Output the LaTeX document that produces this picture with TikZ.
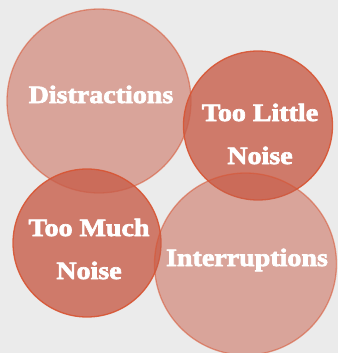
\documentclass[tikz,border=0pt]{standalone}
\usepackage{fontspec}
\newfontfamily\lblfont[FakeStretch=1.12]{Liberation Serif}
\newcommand\heavytxt[1]{\special{pdf:literal direct 2 Tr 0.7 w}#1\special{pdf:literal direct 0 Tr}}
\definecolor{bgc}{RGB}{235,235,235}
\definecolor{basec}{RGB}{200,94,74}
\definecolor{edgec}{RGB}{216,84,50}
\tikzset{
  lightcirc/.style={circle, fill=basec, fill opacity=0.5, draw=edgec, draw opacity=0.55, line width=1.3pt, inner sep=0pt},
  darkcirc/.style={circle, fill=basec, fill opacity=0.8, draw=edgec, draw opacity=0.9, line width=1.3pt, inner sep=0pt},
  lbl/.style={text=white, font=\lblfont\bfseries\fontsize{25}{43}\selectfont, align=center, anchor=base, inner sep=0pt}
}
\begin{document}
\begin{tikzpicture}[x=1pt,y=-1pt]
\fill[bgc] (0,0) rectangle (338,353);
\useasboundingbox (0,0) rectangle (338,353);
\node[lightcirc, minimum size=184pt] (c1) at (99,101) {};
\node[darkcirc, minimum size=149pt] (c2) at (258,125.5) {};
\node[darkcirc, minimum size=148pt] (c3) at (87,243) {};
\node[lightcirc, minimum size=182pt] (c4) at (245.5,264) {};
\node[lbl] (t1) at (101,103) {\heavytxt{Distractions}};
\node[lbl] (t2) at (260,164) {\heavytxt{Too Little}\\\heavytxt{Noise}};
\node[lbl] (t3) at (89,279) {\heavytxt{Too Much}\\\heavytxt{Noise}};
\node[lbl] (t4) at (247,266) {\heavytxt{Interruptions}};
\end{tikzpicture}
\end{document}
